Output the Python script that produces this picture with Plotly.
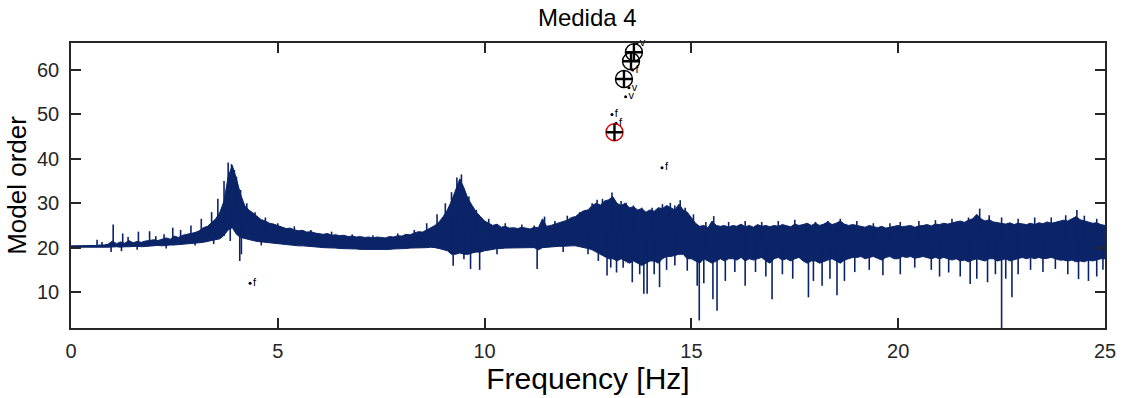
import numpy as np
import plotly.graph_objects as go

# ---------------- data ----------------
# spectrum band, sampled every 0.1 Hz from 0 to 25 Hz (upper / lower level on the model-order scale)
band_freq = [round(0.1 * i, 1) for i in range(251)]
band_upper = [
    20.4, 20.4, 20.4, 20.4, 20.4, 20.4, 20.5, 20.6, 20.6, 20.8,
    21.5, 20.9, 21.3, 21.0, 21.6, 21.1, 21.4, 21.2, 21.5, 21.6,
    21.8, 21.6, 21.9, 22.2, 21.9, 22.6, 22.3, 22.8, 23.0, 23.2,
    23.4, 23.8, 24.5, 24.8, 25.6, 26.5, 28.0, 30.5, 36.0, 38.5,
    35.5, 32.0, 29.5, 28.5, 27.8, 27.0, 26.3, 26.0, 25.5, 25.3,
    25.0, 24.6, 24.3, 24.4, 24.0, 23.8, 23.9, 23.5, 23.6, 23.3,
    23.2, 23.0, 23.2, 22.8, 22.9, 22.7, 22.8, 22.5, 22.6, 22.4,
    22.5, 22.3, 22.4, 22.2, 22.4, 22.3, 22.2, 22.5, 22.4, 22.7,
    22.6, 23.0, 22.9, 23.3, 23.6, 23.5, 24.0, 24.4, 25.0, 25.8,
    27.0, 28.5, 30.5, 33.0, 35.5, 33.5, 31.0, 29.5, 28.0, 27.0,
    26.0, 25.5, 25.0, 25.3, 24.6, 24.8, 24.4, 24.5, 24.3, 24.6,
    24.4, 24.2, 24.6, 24.5, 26.5, 24.8, 25.0, 25.3, 25.5, 25.8,
    26.2, 26.8, 27.0, 27.8, 28.3, 28.5, 29.5, 30.0, 29.6, 30.5,
    30.8, 31.5, 30.0, 29.5, 30.0, 29.0, 29.2, 28.5, 28.8, 28.0,
    28.5, 28.2, 29.0, 28.8, 29.5, 29.0, 28.5, 29.8, 28.5, 28.0,
    26.8, 25.5, 24.8, 25.0, 24.5, 26.0, 25.0, 24.8, 25.0, 24.6,
    25.0, 24.8, 25.3, 24.7, 25.0, 24.6, 25.2, 24.8, 25.0, 24.7,
    25.0, 24.8, 25.2, 25.0, 24.7, 25.3, 25.0, 25.2, 25.5, 25.0,
    25.5, 25.0, 25.3, 25.8, 25.2, 25.5, 26.0, 25.3, 25.0, 25.2,
    25.0, 24.8, 24.6, 25.0, 24.7, 24.5, 24.8, 24.4, 24.6, 24.8,
    25.0, 24.7, 24.8, 25.0, 24.6, 24.9, 25.0, 25.2, 24.9, 25.3,
    25.2, 25.5, 25.3, 25.6, 25.8, 26.0, 25.7, 26.2, 26.5, 27.5,
    26.5, 26.0, 26.3, 25.8, 25.6, 25.5, 25.3, 25.6, 25.2, 25.5,
    25.3, 25.2, 25.5, 25.2, 25.6, 25.4, 25.8, 25.5, 25.7, 26.0,
    26.2, 26.0, 26.5, 27.0, 26.3, 26.0, 25.8, 25.5, 25.6, 25.2,
    25.0]
band_lower = [
    20.1, 20.1, 20.1, 20.1, 20.1, 20.1, 20.1, 20.1, 20.1, 20.1,
    20.1, 20.2, 20.1, 20.2, 20.2, 20.2, 20.3, 20.2, 20.3, 20.3,
    20.4, 20.5, 20.4, 20.5, 20.6, 20.6, 20.7, 20.8, 20.8, 20.9,
    21.0, 21.1, 21.2, 21.3, 21.5, 21.8, 22.0, 22.8, 24.0, 24.5,
    23.0, 22.3, 22.0, 21.8, 21.6, 21.4, 21.3, 21.1, 21.0, 21.0,
    20.8, 20.8, 20.6, 20.6, 20.5, 20.4, 20.4, 20.3, 20.2, 20.2,
    20.1, 20.0, 20.0, 19.9, 19.9, 19.8, 19.8, 19.7, 19.7, 19.7,
    19.6, 19.6, 19.5, 19.5, 19.5, 19.5, 19.6, 19.6, 19.7, 19.7,
    19.8, 19.8, 19.9, 19.9, 20.0, 20.0, 20.0, 20.1, 20.0, 19.8,
    19.6, 19.3, 18.5, 18.5, 18.8, 18.5, 18.5, 18.8, 19.0, 19.0,
    19.3, 19.5, 19.6, 19.8, 19.8, 19.9, 20.0, 20.0, 20.0, 20.0,
    20.0, 20.0, 20.0, 19.5, 20.0, 20.1, 20.2, 20.2, 20.3, 20.3,
    20.3, 20.4, 20.4, 20.2, 20.0, 19.8, 19.5, 19.0, 18.5, 18.0,
    17.5, 17.5, 17.0, 17.5, 17.0, 16.5, 17.0, 16.5, 16.0, 16.5,
    17.0, 17.0, 16.5, 17.5, 18.0, 18.0, 18.2, 18.5, 18.5, 17.5,
    17.5, 17.0, 16.5, 17.5, 17.0, 16.5, 17.0, 17.5, 17.0, 17.5,
    17.5, 17.2, 17.8, 17.0, 17.5, 17.2, 17.5, 17.8, 17.0, 16.5,
    17.5, 17.8, 17.2, 17.5, 17.0, 17.5, 17.8, 17.0, 16.5, 17.0,
    17.0, 16.5, 16.8, 17.2, 17.5, 17.0, 16.5, 17.2, 17.5, 17.8,
    17.8, 18.0, 17.5, 17.8, 18.0, 17.6, 17.2, 17.8, 18.0, 17.5,
    17.5, 18.0, 17.8, 18.0, 17.6, 17.8, 18.0, 17.8, 17.5, 17.8,
    17.5, 17.8, 17.5, 17.2, 17.5, 17.0, 17.2, 16.8, 17.2, 17.5,
    17.2, 17.0, 17.5, 17.5, 17.0, 17.2, 17.5, 17.0, 17.2, 17.5,
    17.8, 17.5, 17.8, 17.5, 17.8, 17.5, 17.6, 17.8, 17.5, 17.2,
    17.2, 17.0, 17.2, 16.8, 17.0, 16.8, 17.2, 17.0, 17.2, 17.5,
    17.5]

# individual spectral spikes (frequency, extreme level)
spike_up_freq = [0.63, 0.75, 1.02, 1.25, 1.38, 1.63, 1.9, 2.05, 2.25, 2.46, 2.65, 2.9, 3.15, 3.4,
                 3.55, 3.7, 3.8, 3.88, 3.95, 4.0, 4.1, 4.25, 4.45, 4.7, 5.0, 5.4, 5.8, 6.3, 6.8,
                 7.3, 7.9, 8.3, 8.6, 8.85, 9.05, 9.2, 9.33, 9.44, 9.5, 9.62, 9.8, 10.1, 10.5, 10.9,
                 11.2, 11.45, 11.7, 12.0, 12.3, 12.44, 12.6, 12.72, 12.85, 13.08, 13.3, 13.42,
                 13.6, 13.8, 14.05, 14.3, 14.49, 14.6, 14.73, 14.85, 15.05, 15.35, 15.54, 15.9,
                 16.3, 16.7, 17.1, 17.5, 18.0, 18.3, 18.6, 19.0, 19.4, 19.8, 20.05, 20.5, 20.9,
                 21.3, 21.7, 21.97, 22.2, 22.5, 22.9, 23.3, 23.7, 24.05, 24.32, 24.5, 24.8]
spike_up_val = [21.8, 21.3, 25.2, 23.2, 22.4, 23.6, 23.7, 22.6, 23.0, 24.5, 24.0, 25.0, 26.5, 28.0,
                31.0, 35.0, 39.2, 38.8, 37.5, 36.0, 33.0, 30.0, 28.0, 26.8, 25.5, 24.8, 24.0, 23.6,
                23.0, 22.8, 23.2, 24.0, 25.5, 27.5, 30.0, 32.5, 35.8, 36.5, 33.0, 31.5, 28.5, 26.5,
                25.5, 25.2, 25.0, 27.0, 26.0, 27.2, 28.0, 28.5, 30.0, 30.8, 31.0, 32.4, 30.5, 30.1,
                29.5, 29.0, 29.0, 29.8, 30.1, 29.5, 30.7, 29.0, 27.5, 25.8, 27.1, 25.8, 26.0, 25.8,
                26.0, 26.3, 25.8, 26.0, 26.5, 26.0, 25.5, 25.5, 25.8, 26.0, 26.2, 26.5, 26.8, 28.8,
                27.3, 26.8, 26.5, 26.8, 26.8, 27.3, 28.5, 27.2, 26.5]
spike_dn_freq = [0.97, 1.22, 1.6, 2.3, 3.0, 3.45, 3.7, 3.85, 4.08, 4.12, 4.6, 9.24, 9.5, 9.66, 9.88,
                 10.3, 11.27, 11.9, 12.5, 12.75, 12.96, 13.05, 13.19, 13.35, 13.57, 13.75, 13.85,
                 13.93, 14.1, 14.23, 14.4, 14.6, 14.9, 15.14, 15.19, 15.3, 15.52, 15.62, 15.82,
                 16.05, 16.3, 16.55, 16.8, 16.95, 17.2, 17.45, 17.83, 17.95, 18.16, 18.35, 18.52,
                 18.7, 18.95, 19.3, 19.63, 20.05, 20.4, 20.8, 21.0, 21.22, 21.5, 21.74, 21.9,
                 22.16, 22.35, 22.5, 22.6, 22.75, 22.9, 23.2, 23.5, 23.8, 24.1, 24.36, 24.6, 24.8,
                 24.95]
spike_dn_val = [19.0, 19.2, 19.5, 19.8, 20.5, 20.8, 22.6, 21.5, 17.0, 18.5, 20.5, 15.9, 17.4, 15.2,
                15.0, 18.5, 15.2, 19.0, 18.5, 17.0, 13.7, 15.5, 14.4, 15.5, 12.2, 14.0, 9.6, 9.6,
                14.0, 11.1, 15.0, 16.0, 14.8, 11.4, 3.6, 12.0, 8.4, 5.8, 12.5, 14.5, 11.4, 14.5,
                13.5, 8.4, 14.0, 13.0, 8.8, 12.5, 11.4, 13.0, 9.3, 12.5, 14.5, 15.0, 13.8, 14.0,
                15.5, 15.0, 13.5, 14.4, 13.5, 11.8, 13.0, 12.2, 14.0, 1.9, 13.0, 8.8, 14.0, 15.0,
                14.5, 15.2, 14.0, 12.9, 12.5, 13.5, 15.0]

# identified poles
stable_freq = [13.37, 13.54, 13.61]
stable_order = [58, 62, 64]
selected_freq = [13.14]
selected_order = [46]
f_freq = [4.33, 14.29, 13.18, 13.08, 13.58]
f_order = [12, 38, 48, 50, 60]
v_freq = [13.41, 13.49, 13.68]
v_order = [54, 56, 66]

title_text = "Medida 4"
x_label = "Frequency [Hz]"
y_label = "Model order"
x_ticks = [0, 5, 10, 15, 20, 25]
y_ticks = [10, 20, 30, 40, 50, 60]

# ---------------- figure ----------------
NAVY = "#0b2468"
INK = "#262626"
FONT = "Liberation Sans, Arial, Helvetica, sans-serif"

fig = go.Figure()

# band
fig.add_trace(go.Scatter(
    x=band_freq + band_freq[::-1],
    y=band_upper + band_lower[::-1],
    fill="toself", fillcolor=NAVY, mode="lines",
    line=dict(color=NAVY, width=1), hoverinfo="skip", showlegend=False))

# spikes drawn from the band middle
mid = (np.array(band_upper) + np.array(band_lower)) / 2.0
sx, sy = [], []
for fr, val in list(zip(spike_up_freq, spike_up_val)) + list(zip(spike_dn_freq, spike_dn_val)):
    base = float(np.interp(fr, band_freq, mid))
    sx += [fr, fr, None]
    sy += [base, val, None]
fig.add_trace(go.Scatter(x=sx, y=sy, mode="lines", line=dict(color=NAVY, width=1.6),
                         hoverinfo="skip", showlegend=False, cliponaxis=True))

# 'f' and 'v' poles
for fr, od, lab in [(f_freq, f_order, "f"), (v_freq, v_order, "v")]:
    fig.add_trace(go.Scatter(
        x=fr, y=od, mode="markers+text", text=[lab] * len(fr),
        textposition="middle right", textfont=dict(family=FONT, size=11, color="black"),
        marker=dict(color="black", size=3), cliponaxis=False, showlegend=False))

# stable poles: circle with plus
for fr, od, col in [(stable_freq, stable_order, "black"), (selected_freq, selected_order, "#d40000")]:
    fig.add_trace(go.Scatter(
        x=fr, y=od, mode="markers",
        marker=dict(symbol="circle-open", size=17, color=col, line=dict(width=1.4, color=col)),
        cliponaxis=False, showlegend=False))
    fig.add_trace(go.Scatter(
        x=fr, y=od, mode="markers",
        marker=dict(symbol="cross-thin-open", size=12, color="black", line=dict(width=2.4, color="black")),
        cliponaxis=False, showlegend=False))

fig.update_layout(
    width=1124, height=398,
    margin=dict(l=71, r=19, t=43, b=70),
    paper_bgcolor="white", plot_bgcolor="white",
    font=dict(family=FONT, color=INK),
    title=dict(text=title_text, x=0.5225, xanchor="center", y=1 - 18 / 398, yref="container",
               yanchor="middle", font=dict(family=FONT, size=24, color="black")),
)
axis_common = dict(showgrid=False, zeroline=False, showline=True, linecolor=INK, linewidth=1.6,
                   mirror="ticks", ticks="inside", ticklen=10, tickwidth=1.6, tickcolor=INK,
                   automargin=False, tickfont=dict(family=FONT, size=20, color=INK))
fig.update_xaxes(range=[0, 25], tickvals=x_ticks, ticklabelstandoff=4,
                 title=dict(text=x_label, font=dict(family=FONT, size=30, color="black"), standoff=6),
                 **axis_common)
fig.update_yaxes(range=[1.9, 66.1], tickvals=y_ticks, ticklabelstandoff=6,
                 title=dict(text=y_label, font=dict(family=FONT, size=26, color="black"), standoff=3),
                 **axis_common)

fig.write_html("out.html")
